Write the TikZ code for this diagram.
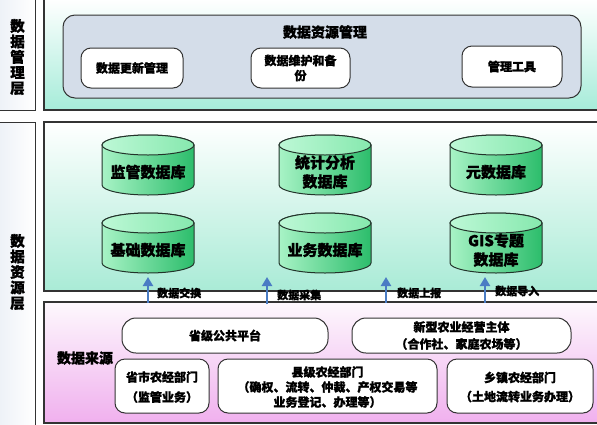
\documentclass[tikz,border=0pt]{standalone}
\usepackage{fontspec}
\setmainfont{Noto Sans CJK SC}[BoldFeatures={FakeBold=1.2}]
\usetikzlibrary{arrows.meta}
\definecolor{edge}{HTML}{333333}
\definecolor{mint}{HTML}{A6ECD9}
\definecolor{mintB}{HTML}{A9EBD6}
\definecolor{pinkB}{HTML}{F0B0EE}
\definecolor{pinkT}{HTML}{FDF8FD}
\definecolor{sideF}{HTML}{EDF1F7}
\definecolor{innerF}{HTML}{D4DDE9}
\definecolor{cylL}{HTML}{A8F3C6}
\definecolor{cylR}{HTML}{2CBD6B}
\definecolor{cylTL}{HTML}{BDF8D6}
\definecolor{cylTR}{HTML}{86E8AE}
\definecolor{cylE}{HTML}{22332A}
\definecolor{arrowblue}{HTML}{4A7CC4}
\tikzset{
  sidebox/.style={draw=edge, line width=1pt, left color=sideF, right color=white},
  panelbox/.style={draw=edge, line width=1.3pt},
  smallbox/.style={draw=edge, line width=1pt, fill=white, rounded corners=10pt},
  boxtext/.style={font=\fontsize{12}{15}\selectfont\bfseries, align=center, inner sep=0pt},
  sidetext/.style={font=\fontsize{14.5}{15.5}\selectfont\bfseries, align=center, inner sep=0pt},
  cylbody/.style={draw=cylE, line width=1pt, left color=cylL, right color=cylR},
  cyltop/.style={draw=cylE, line width=1pt, left color=cylTL, right color=cylTR},
  cyltext/.style={font=\fontsize{15}{19}\selectfont\bfseries, align=center, inner sep=0pt},
  uparrow/.style={draw=arrowblue, line width=2.5pt, -{Triangle[length=9pt,width=10pt]}},
  arrowlabel/.style={font=\fontsize{11}{12}\selectfont\bfseries, anchor=west, inner sep=0pt}
}
\newcommand\dbcyl[4]{%
  \path[cylbody] ({#1-46},{#2+20}) -- ({#1-46},{#2-20})
     arc[start angle=180,end angle=360,x radius=46pt,y radius=10pt]
     -- ({#1+46},{#2+20})
     arc[start angle=0,end angle=180,x radius=46pt,y radius=10pt] -- cycle;
  \path[cyltop] (#1,{#2+20}) ellipse[x radius=46pt,y radius=10pt];
  \node[cyltext] (#3) at (#1,{#2-7}) {#4};
}
\begin{document}
\begin{tikzpicture}[x=1pt,y=1pt]
\useasboundingbox (0,0) rectangle (597,-424);
\fill[white] (0,0) rectangle (597,-424);
% side labels
\path[sidebox] (-2,1) rectangle (35,-110);
\node[sidetext] (lab1) at (17.5,-57) {数\\据\\管\\理\\层};
\path[sidebox] (-2,-122) rectangle (35,-426);
\node[sidetext] (lab2) at (17.5,-272) {数\\据\\资\\源\\层};
% panel 1
\path[panelbox, top color=white, bottom color=mint] (44,1) rectangle (598,-110);
\path[draw=edge, line width=1pt, fill=innerF, rounded corners=12pt] (63,-15) rectangle (581,-98);
\node[font=\fontsize{14}{15}\selectfont\bfseries, inner sep=0pt] (mgmt) at (325,-32) {数据资源管理};
\path[smallbox] (81,-48) rectangle (183,-88);
\node[boxtext] (upd) at (132,-68) {数据更新管理};
\path[smallbox] (251,-48) rectangle (350,-88);
\node[boxtext] (maint) at (300.5,-68) {数据维护和备\\份};
\path[smallbox] (462,-46) rectangle (562,-87);
\node[boxtext] (tool) at (512,-66.5) {管理工具};
% panel 2
\path[panelbox, top color=white, bottom color=mintB] (44,-122) rectangle (598,-291);
\dbcyl{148}{-165}{jg}{监管数据库}
\dbcyl{325}{-165}{tj}{统计分析\\数据库}
\dbcyl{496}{-165}{yuan}{元数据库}
\dbcyl{148}{-243}{jc}{基础数据库}
\dbcyl{325}{-243}{yw}{业务数据库}
\dbcyl{496}{-243}{gis}{GIS专题\\数据库}
% panel 3
\path[panelbox, top color=pinkT, bottom color=pinkB] (44,-302) rectangle (598,-423);
\node[font=\fontsize{14}{16}\selectfont\bfseries, inner sep=0pt] (src) at (85,-358) {数据来源};
\path[smallbox, rounded corners=14pt] (122,-318) rectangle (328,-353);
\node[boxtext] (prov) at (225,-335.5) {省级公共平台};
\path[smallbox, rounded corners=14pt] (352,-318) rectangle (571,-353);
\node[boxtext, font=\fontsize{12}{17}\selectfont\bfseries] (xx) at (461.5,-335.5) {新型农业经营主体\\（合作社、家庭农场等）};
\path[smallbox] (115,-359) rectangle (209,-413);
\node[boxtext, font=\fontsize{12}{20}\selectfont\bfseries] (ss) at (162,-387) {省市农经部门\\（监管业务）};
\path[smallbox] (218,-359) rectangle (437,-413);
\node[boxtext] (xj) at (327.5,-387) {县级农经部门\\（确权、流转、仲裁、产权交易等\\业务登记、办理等）};
\path[smallbox] (447,-359) rectangle (593,-413);
\node[boxtext, font=\fontsize{12}{19}\selectfont\bfseries] (xz) at (520,-387) {乡镇农经部门\\（土地流转业务办理）};
% arrows
\coordinate (a1s) at (148,-303); \coordinate (a1e) at (148,-277);
\coordinate (a2s) at (267,-304); \coordinate (a2e) at (267,-277);
\coordinate (a3s) at (386,-303); \coordinate (a3e) at (386,-277);
\coordinate (a4s) at (485,-303); \coordinate (a4e) at (485,-277);
\draw[uparrow] (a1s) -- (a1e);
\draw[uparrow] (a2s) -- (a2e);
\draw[uparrow] (a3s) -- (a3e);
\draw[uparrow] (a4s) -- (a4e);
\node[arrowlabel] (l1) at (157,-293) {数据交换};
\node[arrowlabel] (l2) at (277,-295) {数据采集};
\node[arrowlabel] (l3) at (397,-293) {数据上报};
\node[arrowlabel] (l4) at (495,-291) {数据导入};
\end{tikzpicture}
\end{document}
